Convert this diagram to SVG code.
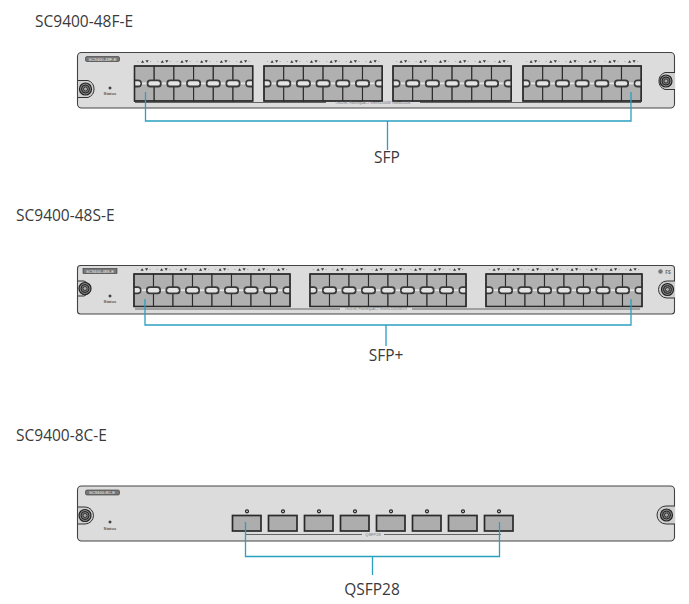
<svg xmlns="http://www.w3.org/2000/svg" width="689" height="604" viewBox="0 0 689 604">
<style>
text{font-family:"Open Sans","Noto Sans","Liberation Sans",sans-serif}
.t{font-size:15.500px;fill:#3a3a3a}
.c{font-size:15.500px;fill:#3a3a3a;text-anchor:middle}
.s{font-size:4.200px;fill:#555;text-anchor:middle;font-weight:700;font-family:"Liberation Sans",sans-serif}
.m{font-size:3.200px;fill:#777;text-anchor:middle;font-family:"Liberation Sans",sans-serif}
.tag{font-size:4.200px;fill:#f2f2f2;text-anchor:middle;font-family:"Liberation Sans",sans-serif}
.tagb{fill:#777;stroke:#333;stroke-width:.6}
.panel{fill:#dcdcdc;stroke:#444;stroke-width:1.100}
.cell{fill:#b0b0b0;stroke:#2a2a2a;stroke-width:1.100}
.frame{fill:none;stroke:#2a2a2a;stroke-width:1.500}
.q{fill:#adadad;stroke:#2a2a2a;stroke-width:1.700}
.lk{fill:none;stroke:#2a9fc0;stroke-width:1.300}
.rail{stroke:#444;stroke-width:.8;fill:none}
.led{fill:#444;stroke:#333;stroke-width:.3}
.hi{fill:#e4e4e4}
.dk{fill:#3a3a3a}
</style>
<defs>
<g id="icons">
<path d="M6.500 -3.200l1.600 -2.600l1.600 2.600z" fill="#333"/>
<path d="M11 -5.800h3.200l-1.600 2.600z" fill="#333"/>
<path d="M2.800 -4.500h1.400M15.500 -4.500h1.400" stroke="#999" stroke-width=".6"/>
</g>
<g id="blob">
<rect class="dk" x="-7.500" y="-4" width="15" height="8" rx="3.500"/>
<rect class="hi" x="-5.800" y="-2.200" width="11.600" height="4.400" rx="2.200"/>
</g>
<g id="blobL">
<path class="dk" d="M0 -4h3.500a4 4 0 0 1 0 8H0z"/>
<path class="hi" d="M0 -2.200h3.800a2.200 2.200 0 0 1 0 4.400H0z"/>
</g>
<g id="col"><rect class="cell" width="19.700" height="35"/><rect class="hi" y="16.500" width="19.700" height="1.800"/><use href="#icons"/></g>
<g id="col2"><rect class="cell" width="19.500" height="32.500"/><rect class="hi" y="15.300" width="19.500" height="1.800"/><use href="#icons"/></g>
<g id="g6">
<use href="#col"/><use href="#col" x="19.700"/><use href="#col" x="39.400"/><use href="#col" x="59.100"/><use href="#col" x="78.800"/><use href="#col" x="98.500"/>
<g transform="translate(0 17.400)"><use href="#blobL"/><use href="#blob" x="19.700"/><use href="#blob" x="39.400"/><use href="#blob" x="59.100"/><use href="#blob" x="78.800"/><use href="#blob" x="98.500"/><g transform="translate(118.200 0) scale(-1 1)"><use href="#blobL"/></g></g>
<rect class="frame" width="118.200" height="35"/>
</g>
<g id="g8">
<use href="#col2"/><use href="#col2" x="19.500"/><use href="#col2" x="39"/><use href="#col2" x="58.500"/><use href="#col2" x="78"/><use href="#col2" x="97.500"/><use href="#col2" x="117"/><use href="#col2" x="136.500"/>
<g transform="translate(0 16.200)"><use href="#blobL"/><use href="#blob" x="19.500"/><use href="#blob" x="39"/><use href="#blob" x="58.500"/><use href="#blob" x="78"/><use href="#blob" x="97.500"/><use href="#blob" x="117"/><use href="#blob" x="136.500"/><g transform="translate(156 0) scale(-1 1)"><use href="#blobL"/></g></g>
<rect class="frame" width="156" height="32.500"/>
</g>
<g id="screw">
<circle r="6" fill="#8a8a8a" stroke="#222" stroke-width="1.200"/>
<circle r="4" fill="#777" stroke="#222" stroke-width="1"/>
<circle r="2" fill="#aaa" stroke="#222" stroke-width=".8"/>
</g>
<g id="qsfp">
<circle cx="14.500" cy="-4.200" r="1.500" fill="#ddd" stroke="#222" stroke-width="1.200"/>
<rect class="q" width="28.500" height="15.500"/>
</g>
</defs>

<text class="t" x="35" y="27">SC9400-48F-E</text>
<text class="t" x="16" y="221">SC9400-48S-E</text>
<text class="t" x="16" y="441">SC9400-8C-E</text>

<g id="card-48f">
<rect class="panel" x="77.500" y="52.500" width="597" height="55.500" rx="4"/>
<rect class="tagb" x="85.500" y="56.500" width="34" height="5" rx="1.500"/>
<text class="tag" x="102.500" y="60.500">SC9400-48F-E</text>
<path d="M78 80.500h10a9 9 0 0 1 0 17h-10" fill="#cfcfcf" stroke="#333" stroke-width="1"/>
<use href="#screw" x="85.500" y="89"/>
<path d="M675 72.500h-10a9 9 0 0 0 0 17h10" fill="#cfcfcf" stroke="#333" stroke-width="1"/>
<use href="#screw" x="666" y="81"/>
<circle class="led" cx="110" cy="88" r="1.300"/>
<text class="s" x="110" y="95">Status</text>
<use href="#g6" x="134.500" y="66"/>
<use href="#g6" x="264" y="66"/>
<use href="#g6" x="393" y="66"/>
<use href="#g6" x="523" y="66"/>
<path class="rail" d="M135 102.500H326M420 102.500H641"/>
<text class="m" x="373" y="103.500">On=Link, Flashing=ACT  Green=1000M  Yellow=100M</text>
</g>

<g id="card-48s">
<rect class="panel" x="77.500" y="265.500" width="597" height="48.500" rx="3"/>
<rect class="tagb" x="83" y="268.500" width="34" height="5"/>
<text class="tag" x="100" y="272.500">SC9400-48S-E</text>
<path d="M78 281h6a8 8 0 0 1 0 15h-6" fill="#cfcfcf" stroke="#333" stroke-width="1"/>
<use href="#screw" x="85" y="288.500"/>
<path d="M675 281h-8a8 8 0 0 0 0 17h8" fill="#cfcfcf" stroke="#333" stroke-width="1"/>
<use href="#screw" x="667.500" y="289.500"/>
<circle class="led" cx="110" cy="296" r="1.300"/>
<text class="s" x="110" y="303">Status</text>
<use href="#g8" x="134" y="274"/>
<use href="#g8" x="310" y="274"/>
<use href="#g8" x="486" y="274"/>
<path class="rail" d="M135 309H340M412 309H640"/>
<text class="m" x="376" y="310">On=Link, Flashing=ACT  Green=10000M/1G</text>
<circle cx="660.500" cy="271.500" r="2.200" fill="#777"/>
<text x="668" y="273.500" font-size="5" fill="#666" text-anchor="middle" font-weight="700">FS</text>
</g>

<g id="card-8c">
<rect class="panel" x="77.500" y="486" width="597" height="55" rx="4"/>
<rect class="tagb" x="85.500" y="490" width="34" height="5" rx="1.500"/>
<text class="tag" x="102" y="494">SC9400-8C-E</text>
<path d="M78 507h7a8.500 8.500 0 0 1 0 17h-7" fill="#cfcfcf" stroke="#333" stroke-width="1"/>
<use href="#screw" x="85" y="515.500"/>
<path d="M675 506h-9a9 9 0 0 0 0 18h9" fill="#cfcfcf" stroke="#333" stroke-width="1"/>
<use href="#screw" x="666.500" y="515"/>
<circle class="led" cx="110" cy="522" r="1.300"/>
<text class="s" x="110" y="530">Status</text>
<use href="#qsfp" x="232.500" y="515.500"/>
<use href="#qsfp" x="268.500" y="515.500"/>
<use href="#qsfp" x="304.500" y="515.500"/>
<use href="#qsfp" x="340.500" y="515.500"/>
<use href="#qsfp" x="376.500" y="515.500"/>
<use href="#qsfp" x="412.500" y="515.500"/>
<use href="#qsfp" x="448.500" y="515.500"/>
<use href="#qsfp" x="484.500" y="515.500"/>
<path class="rail" d="M245 534.500H362M384 534.500H501"/>
<text class="m" x="373" y="535.500" style="font-size:4px">QSFP28</text>
</g>

<g id="connectors">
<path class="lk" d="M145.500 92V121H631V92M387.500 121V150"/>
<path class="lk" d="M145 299V325H631V299M386 325V346"/>
<path class="lk" d="M245.500 522V556.500H499.500V522M372.500 556.500V575"/>
</g>

<text class="c" x="387" y="163">SFP</text>
<text class="c" x="386" y="361">SFP+</text>
<text class="c" x="372" y="595">QSFP28</text>
</svg>
